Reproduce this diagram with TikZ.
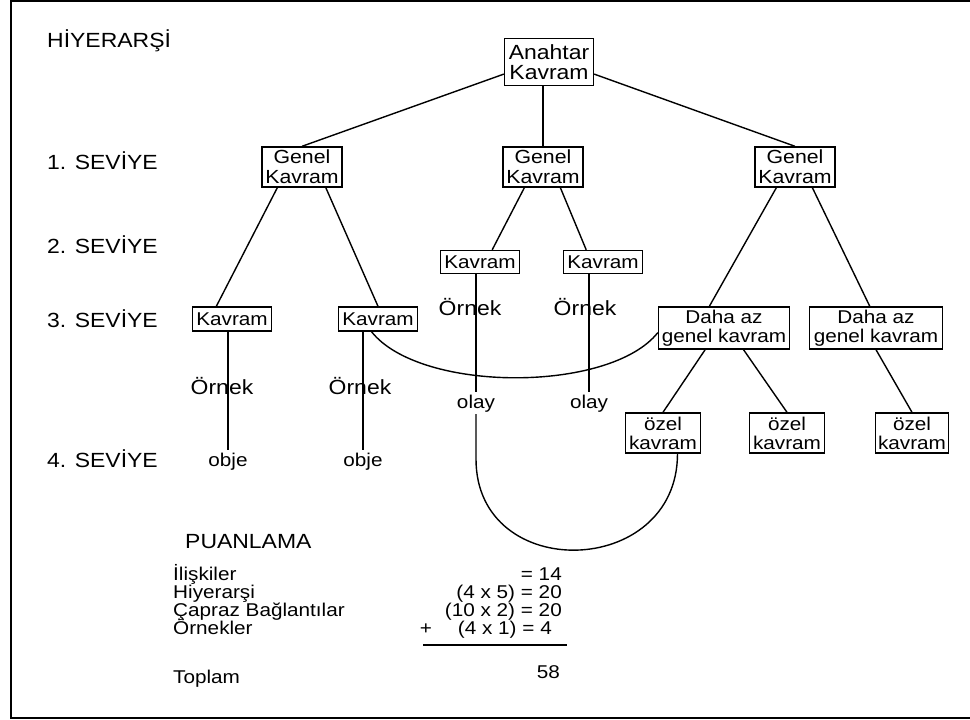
\documentclass[tikz,border=0pt]{standalone}
\usepackage{fontspec}
\setmainfont{Liberation Sans}[FakeStretch=1.12]

\begin{document}
\begin{tikzpicture}[x=1pt, y=-1pt,
    box/.style={rectangle, draw, line width=1.4pt, inner sep=1pt, align=center, font=\fontsize{18.5}{19}\selectfont},
    note/.style={inner sep=2pt, anchor=base, font=\fontsize{18.5}{19}\selectfont},
    tag/.style={inner sep=0pt, anchor=base west, font=\fontsize{18.5}{19}\selectfont},
    bigtext/.style={font=\fontsize{20.5}{20.5}\selectfont},
    link/.style={line width=1.4pt}]
    \useasboundingbox (0,0) rectangle (970,720);
    \draw [line width=2pt] (970,1) -- (10.5,1) -- (10.5,718) -- (970,718);

    \node [tag, bigtext] (hier) at (47,47) {HİYERARŞİ};
    \node [tag, bigtext] (lvlA) at (47,169) {1. SEVİYE};
    \node [tag, bigtext] (lvlB) at (47,253) {2. SEVİYE};
    \node [tag, bigtext] (lvlC) at (47,327) {3. SEVİYE};
    \node [tag, bigtext] (lvlD) at (47,467) {4. SEVİYE};

    \node [box, bigtext, minimum width=89pt, minimum height=47pt] (anahtar) at (549,62) {Anahtar\\Kavram};
    \node [box, font=\fontsize{19}{20}\selectfont, minimum width=80pt, minimum height=40pt] (genelA) at (302,167) {Genel\\Kavram};
    \node [box, font=\fontsize{19}{20}\selectfont, minimum width=80pt, minimum height=40pt] (genelB) at (543,167) {Genel\\Kavram};
    \node [box, font=\fontsize{19}{20}\selectfont, minimum width=80pt, minimum height=40pt] (genelC) at (795,167) {Genel\\Kavram};
    \node [box, minimum width=79pt, minimum height=23pt] (kavA) at (480,262) {Kavram};
    \node [box, minimum width=79pt, minimum height=23pt] (kavB) at (603,262) {Kavram};
    \node [box, minimum width=79pt, minimum height=24pt] (kavC) at (232,319) {Kavram};
    \node [box, minimum width=79pt, minimum height=24pt] (kavD) at (378,319) {Kavram};
    \node [box, minimum width=131pt, minimum height=42pt] (dazA) at (724,328) {Daha az\\genel kavram};
    \node [box, minimum width=133pt, minimum height=42pt] (dazB) at (876,328) {Daha az\\genel kavram};
    \node [box, minimum width=75pt, minimum height=40pt] (ozelA) at (663,433) {özel\\kavram};
    \node [box, minimum width=75pt, minimum height=40pt] (ozelB) at (787,433) {özel\\kavram};
    \node [box, minimum width=73pt, minimum height=40pt] (ozelC) at (912,433) {özel\\kavram};

    \node [note, bigtext] (ornekA) at (222,394) {Örnek};
    \node [note, bigtext] (ornekB) at (360,394) {Örnek};
    \node [note, bigtext] (ornekC) at (470,315) {Örnek};
    \node [note, bigtext] (ornekD) at (585,315) {Örnek};
    \node [note] (objeA) at (228,466) {obje};
    \node [note] (objeB) at (363,466) {obje};
    \node [note] (olayA) at (476,408) {olay};
    \node [note] (olayB) at (589,408) {olay};

    \draw [link] (anahtar.195) -- (genelA.north);
    \draw [link] (genelB) -- (genelB |- anahtar.south);
    \draw [link] (anahtar.-15) -- (genelC.north);
    \draw [link] (genelA.220) -- (kavC.141);
    \draw [link] (genelA.-41) -- (kavD.north);
    \draw [link] (genelB.228) -- (kavA.45);
    \draw [link] (genelB.310) -- (kavB.144);
    \draw [link] (genelC.228) -- (dazA.124);
    \draw [link] (genelC.310) -- (dazB.106);
    \draw [link] (dazA.229) -- (ozelA.north);
    \draw [link] (dazA.312) -- (ozelB.north);
    \draw [link] (dazB.south) -- (ozelC.north);
    \draw [link] (kavC.south -| objeA) -- (objeA.north);
    \draw [link] (kavD.south -| objeB) -- (objeB.north);
    \draw [link] (kavA.south -| olayA) -- (olayA.north);
    \draw [link] (kavB.south -| olayB) -- (olayB.north);
    \draw [link] (kavD.243) .. controls (420,393) and (610,393) .. (dazA.184);
    \draw [link] (olayA.south) -- ++(0,45) .. controls +(0,125) and +(0,125) .. (ozelA.-55);

    \node [tag, bigtext] (puan) at (185,548) {PUANLAMA};
    \node [tag] (iliski) at (173,580) {İlişkiler};
    \node [tag] (hiyer) at (173,598) {Hiyerarşi};
    \node [tag] (capraz) at (173,616) {Çapraz Bağlantılar};
    \node [tag] (ornekler) at (173,634) {Örnekler};
    \node [tag] (toplam) at (173,683) {Toplam};
    \node [tag, anchor=base east] (valA) at (562,580) {= 14};
    \node [tag, anchor=base east] (valB) at (562,598) {(4 x 5) = 20};
    \node [tag, anchor=base east] (valC) at (562,616) {(10 x 2) = 20};
    \node [tag, anchor=base east] (valD) at (552,634) {(4 x 1) = 4};
    \node [tag, anchor=base] (plus) at (426,634) {+};
    \node [tag, anchor=base east] (sum) at (560,678) {58};
    \draw [link] (423,645) -- (567,645);
\end{tikzpicture}
\end{document}
